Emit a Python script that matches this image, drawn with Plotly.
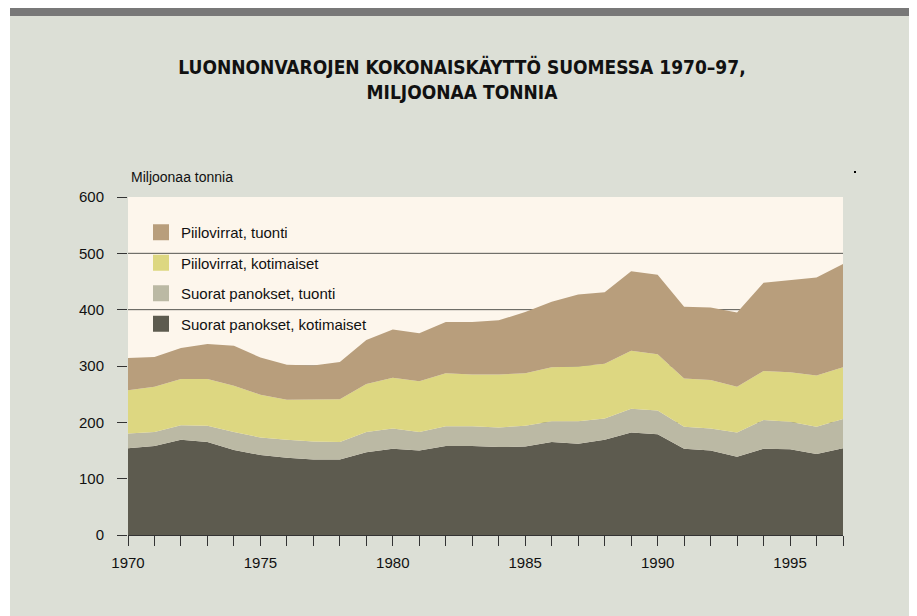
import plotly.graph_objects as go

years = list(range(1970, 1998))
suorat_kotimaiset = [154, 158, 169, 165, 151, 142, 137, 134, 134, 147, 153, 150, 158, 158,
                     156, 157, 165, 162, 169, 182, 179, 153, 150, 139, 153, 152, 144, 154]
suorat_tuonti = [26, 25, 26, 29, 32, 31, 32, 32, 31, 36, 36, 33, 35, 35,
                 35, 37, 37, 40, 38, 42, 42, 39, 39, 43, 51, 49, 48, 52]
piilo_kotimaiset = [77, 80, 82, 83, 82, 76, 71, 75, 76, 85, 90, 90, 94, 92,
                    94, 93, 96, 97, 97, 103, 100, 86, 86, 81, 87, 88, 91, 92]
piilo_tuonti = [57, 53, 55, 62, 71, 66, 62, 60, 66, 78, 86, 85, 91, 93,
                96, 109, 116, 128, 127, 141, 141, 127, 129, 132, 157, 163, 174, 183]

series_names = ["Suorat panokset, kotimaiset", "Suorat panokset, tuonti",
                "Piilovirrat, kotimaiset", "Piilovirrat, tuonti"]
series_values = [suorat_kotimaiset, suorat_tuonti, piilo_kotimaiset, piilo_tuonti]
series_colors = ["#5d5b4f", "#bbb9a4", "#ddd781", "#b89e7c"]

y_ticks = [0, 100, 200, 300, 400, 500, 600]
grid_values = [100, 200, 300, 400, 500]
x_labels = [str(y) if y % 5 == 0 else "" for y in years]

# page is rendered with an 8px body margin: work in page pixels, shift by OFF
OFF = 8
PAGE_W, PAGE_H = 917, 616
W, H = PAGE_W - OFF, PAGE_H - OFF
L, R, T, B = 128 - OFF, 843 - OFF, 197 - OFF, 535 - OFF

FONT = "Liberation Sans, Arial, sans-serif"
TFONT = "DejaVu Sans Condensed, DejaVu Sans, sans-serif"

fig = go.Figure()
for name, vals, col in zip(series_names, series_values, series_colors):
    fig.add_trace(go.Scatter(
        x=years, y=vals, name=name, stackgroup="one", mode="lines",
        line=dict(width=0, color=col), fillcolor=col, showlegend=False,
        hoverinfo="x+y+name"))

# legend entries (top to bottom)
for i, (name, col) in enumerate(reversed(list(zip(series_names, series_colors)))):
    fig.add_trace(go.Scatter(
        x=[None], y=[None], mode="markers", name=name,
        marker=dict(symbol="square", size=17, color=col),
        legendgroup="g%d" % i, showlegend=True))

for v in grid_values:
    fig.add_hline(y=v, layer="below", line=dict(color="#555550", width=1))


def px(x):
    # page x pixel -> paper coordinate
    return (x - OFF - L) / (R - L)


def py(y):
    # page y pixel -> paper coordinate
    return (B - (y - OFF)) / (B - T)


shapes = [
    dict(x0=px(0), x1=px(10), y0=py(0), y1=py(PAGE_H), color="white"),
    dict(x0=px(912), x1=px(PAGE_W + 5), y0=py(0), y1=py(PAGE_H), color="white"),
    dict(x0=px(0), x1=px(PAGE_W + 5), y0=py(0), y1=py(7), color="white"),
    dict(x0=px(10), x1=px(912), y0=py(7), y1=py(16), color="#787878"),
    dict(x0=px(854), x1=px(856), y0=py(171), y1=py(173), color="#000000"),
]
for s in shapes:
    fig.add_shape(type="rect", xref="paper", yref="paper", x0=s["x0"], x1=s["x1"],
                  y0=s["y0"], y1=s["y1"], fillcolor=s["color"], line=dict(width=0),
                  layer="above")

fig.add_annotation(text="Miljoonaa tonnia", xref="paper", yref="paper",
                   x=px(129), y=py(177), xanchor="left", yanchor="middle",
                   showarrow=False, font=dict(family=FONT, size=14, color="#111"))

fig.update_layout(
    width=W, height=H,
    margin=dict(l=L, r=W - R, t=T, b=H - B, pad=0),
    paper_bgcolor="#dcdfd6",
    plot_bgcolor="#fdf6ec",
    font=dict(family=FONT, size=15, color="#111"),
    title=dict(text="<b>LUONNONVAROJEN KOKONAISKÄYTTÖ SUOMESSA 1970–97,<br>MILJOONAA TONNIA</b>",
               x=(462 - OFF) / W, xanchor="center", xref="container",
               y=1 - (79 - OFF - 5) / H, yanchor="middle", yref="container",
               font=dict(family=TFONT, size=19, color="#111")),
    legend=dict(x=px(141), y=py(216), xanchor="left", yanchor="top",
                bgcolor="rgba(0,0,0,0)", font=dict(family=FONT, size=15, color="#111"),
                tracegroupgap=8, itemwidth=30, traceorder="grouped"),
    showlegend=True,
    xaxis=dict(range=[1970, 1997], tickmode="array", tickvals=years, ticktext=x_labels,
               ticks="outside", ticklen=10, tickcolor="#333", tickwidth=1,
               ticklabelstandoff=4,
               showgrid=False, zeroline=False, showline=True, linecolor="#333",
               tickfont=dict(family=FONT, size=15, color="#111")),
    yaxis=dict(range=[0, 600], tickmode="array", tickvals=y_ticks,
               ticks="outside", ticklen=10, tickcolor="#333", tickwidth=1,
               ticklabelstandoff=10,
               showgrid=False, zeroline=False, showline=False,
               tickfont=dict(family=FONT, size=15, color="#111")),
)

fig.write_html("out.html")
